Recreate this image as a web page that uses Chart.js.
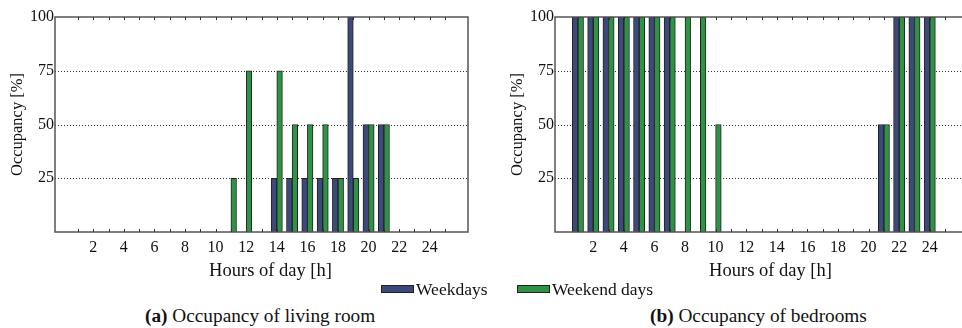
<!DOCTYPE html>
<html>
<head>
<meta charset="utf-8">
<script src="https://cdn.jsdelivr.net/npm/chart.js@4"></script>
<style>
  body { margin: 0; width: 962px; height: 328px; overflow: hidden; background: #fff; position: relative;
         font-family: "Liberation Serif", serif; color: #111; }
  canvas { position: absolute; top: 0; }
  .leg { position: absolute; top: 279px; font-size: 17.5px; white-space: nowrap; }
  .sw { display: inline-block; width: 31px; height: 6px; border: 1px solid #222; margin-right: 2px; vertical-align: 2px; }
  .cap { position: absolute; top: 305px; font-size: 19.3px; white-space: nowrap; }
</style>
</head>
<body>
<canvas id="living" width="480" height="285" style="left:0"></canvas>
<canvas id="bedroom" width="480" height="285" style="left:500px"></canvas>
<div class="leg" style="left:381px"><span class="sw" style="background:#3b4a7b"></span>Weekdays</div>
<div class="leg" style="left:517px"><span class="sw" style="background:#2e9444"></span>Weekend days</div>
<div class="cap" style="left:145px"><b>(a)</b> Occupancy of living room</div>
<div class="cap" style="left:650px"><b>(b)</b> Occupancy of bedrooms</div>
<script>
const hours = [1, 2, 3, 4, 5, 6, 7, 8, 9, 10, 11, 12, 13, 14, 15, 16, 17, 18, 19, 20, 21, 22, 23, 24];
const livingWeekdays = [0, 0, 0, 0, 0, 0, 0, 0, 0, 0, 0, 0, 0, 25, 25, 25, 25, 25, 100, 50, 50, 0, 0, 0];
const livingWeekend  = [0, 0, 0, 0, 0, 0, 0, 0, 0, 0, 25, 75, 0, 75, 50, 50, 50, 25, 25, 50, 50, 0, 0, 0];
const bedWeekdays = [100, 100, 100, 100, 100, 100, 100, 0, 0, 0, 0, 0, 0, 0, 0, 0, 0, 0, 0, 0, 50, 100, 100, 100];
const bedWeekend  = [100, 100, 100, 100, 100, 100, 100, 100, 100, 50, 0, 0, 0, 0, 0, 0, 0, 0, 0, 0, 50, 100, 100, 100];
const xTickLabels = [2, 4, 6, 8, 10, 12, 14, 16, 18, 20, 22, 24];
const yTickLabels = [25, 50, 75, 100];

const serif = '"Liberation Serif", serif';

// dotted grid behind the bars, box + inward hour ticks + x title on top
const framePlugin = {
  id: 'frame',
  beforeDatasetsDraw(chart) {
    const { ctx, chartArea: a, scales: { y } } = chart;
    ctx.save();
    ctx.strokeStyle = '#333';
    ctx.lineWidth = 1;
    ctx.setLineDash([1, 2]);
    yTickLabels.forEach(v => {
      if (v >= 100) return;
      const py = Math.round(y.getPixelForValue(v)) + 0.5;
      ctx.beginPath();
      ctx.moveTo(a.left, py);
      ctx.lineTo(a.right, py);
      ctx.stroke();
    });
    ctx.restore();
  },
  afterDatasetsDraw(chart) {
    const { ctx, chartArea: a, scales: { x } } = chart;
    ctx.save();
    ctx.strokeStyle = '#555';
    ctx.lineWidth = 1.5;
    ctx.strokeRect(a.left, a.top, a.right - a.left, a.bottom - a.top);
    ctx.lineWidth = 1;
    ctx.strokeStyle = '#333';
    for (let h = 1; h <= 25; h++) {
      const px = Math.round(x.getPixelForValue(h)) + 0.5;
      ctx.beginPath();
      ctx.moveTo(px, a.bottom);
      ctx.lineTo(px, a.bottom - 3);
      ctx.moveTo(px, a.top);
      ctx.lineTo(px, a.top + 3);
      ctx.stroke();
    }
    ctx.fillStyle = '#111';
    ctx.font = '18.5px ' + serif;
    ctx.textAlign = 'center';
    ctx.textBaseline = 'middle';
    ctx.fillText('Hours of day [h]', (a.left + a.right) / 2 + 9, 271);
    ctx.restore();
  }
};

function makeChart(id, weekdays, weekend) {
  return new Chart(document.getElementById(id), {
    type: 'bar',
    data: {
      datasets: [{
        label: 'Weekdays',
        data: hours.map((h, i) => ({ x: h, y: weekdays[i] })),
        backgroundColor: '#3b4a7b',
        borderColor: '#222',
        borderWidth: 1
      }, {
        label: 'Weekend days',
        data: hours.map((h, i) => ({ x: h, y: weekend[i] })),
        backgroundColor: '#2e9444',
        borderColor: '#222',
        borderWidth: 1
      }]
    },
    options: {
      responsive: false,
      animation: false,
      barThickness: 5.6,
      layout: { padding: { top: 17, right: 12, left: 0, bottom: 0 } },
      plugins: { legend: { display: false }, tooltip: { enabled: false } },
      scales: {
        x: {
          type: 'linear',
          min: 0,
          max: 26,
          afterFit(s) { s.height = 53; },
          afterBuildTicks(s) {
            s.ticks = [];
            for (let h = 0; h <= 26; h++) s.ticks.push({ value: h });
          },
          grid: { display: false, drawTicks: false },
          border: { display: false },
          ticks: {
            autoSkip: false,
            maxRotation: 0,
            padding: 6,
            color: '#111',
            font: { family: serif, size: 16 },
            callback: v => xTickLabels.includes(v) ? String(v) : ''
          }
        },
        y: {
          min: 0,
          max: 100,
          afterFit(s) { s.width = 55; },
          grid: { display: false, drawTicks: false },
          border: { display: false },
          ticks: {
            stepSize: 25,
            padding: 1,
            color: '#111',
            font: { family: serif, size: 16 },
            callback: v => yTickLabels.includes(v) ? String(v) : ''
          },
          title: {
            display: true,
            text: 'Occupancy [%]',
            color: '#111',
            font: { family: serif, size: 16.5 },
            padding: { top: 8, bottom: 0 }
          }
        }
      }
    },
    plugins: [framePlugin]
  });
}

makeChart('living', livingWeekdays, livingWeekend);
makeChart('bedroom', bedWeekdays, bedWeekend);
</script>
</body>
</html>
